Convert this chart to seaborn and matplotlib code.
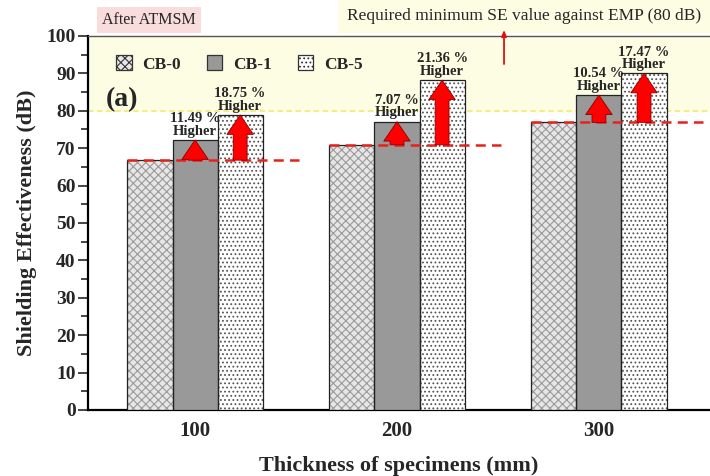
import matplotlib
matplotlib.use('Agg')
import matplotlib.pyplot as plt
from matplotlib.patches import Patch
import seaborn as sns
import pandas as pd

thickness = ['100', '200', '300']
series = ['CB-0', 'CB-1', 'CB-5']
cb0 = [66.8, 70.9, 76.9]
cb1 = [72.2, 77.1, 84.2]
cb5 = [78.9, 88.2, 90.0]
gain_cb1 = ['11.49', '7.07', '10.54']
gain_cb5 = ['18.75', '21.36', '17.47']
emp_limit = 80

df = pd.DataFrame({
    'thickness': thickness * 3,
    'series': [s for s in series for _ in thickness],
    'se': cb0 + cb1 + cb5,
})

sns.set_style('ticks')
plt.rcParams['font.family'] = ['Liberation Serif', 'DejaVu Serif']
plt.rcParams['hatch.linewidth'] = 0.8

fig = plt.figure(figsize=(7.1, 4.76), dpi=100)
ax = fig.add_axes([0.124, 0.1387, 0.876, 0.7857])

colors = {'CB-0': '#e6e6e6', 'CB-1': '#999999', 'CB-5': '#ffffff'}
hatches = {'CB-0': 'xxxx', 'CB-1': '', 'CB-5': '....'}
hatch_col = {'CB-0': '#9a9a9a', 'CB-1': '#999999', 'CB-5': '#555555'}

sns.barplot(data=df, x='thickness', y='se', hue='series', order=thickness,
            hue_order=series, palette=colors, width=0.67, dodge=True,
            edgecolor='black', linewidth=0.9, legend=False, ax=ax, zorder=3)

for cont, s in zip(ax.containers, series):
    for bar in cont:
        bar.set_hatch(hatches[s])
        bar.set_edgecolor(hatch_col[s])
        bar.set_linewidth(0)
        ax.add_patch(plt.Rectangle(bar.get_xy(), bar.get_width(), bar.get_height(),
                                   fill=False, edgecolor='#222222', lw=0.9, zorder=4))

# required-level band
ax.axhspan(emp_limit, 100, color='#fdfde4', zorder=0)
ax.axhline(emp_limit, color='#f0ec80', ls=(0, (3, 2)), lw=1.3, zorder=1)

bars0, bars1, bars5 = ax.containers[:3]
for i in range(len(thickness)):
    b0, b1, b5 = bars0[i], bars1[i], bars5[i]
    base = cb0[i]
    ax.plot([b0.get_x(), b5.get_x() + b5.get_width() + 0.18], [base, base],
            color='#e8201c', ls=(0, (4, 2.5)), lw=1.8, zorder=5)
    for b, top, g in [(b1, cb1[i], gain_cb1[i]), (b5, cb5[i], gain_cb5[i])]:
        xc = b.get_x() + b.get_width() / 2
        ax.annotate('', xy=(xc, top), xytext=(xc, base),
                    arrowprops=dict(arrowstyle='simple,head_width=0.95,tail_width=0.5,head_length=0.7',
                                    fc='#ff0000', ec='#8b0000', lw=0.6, mutation_scale=20,
                                    shrinkA=0, shrinkB=0), zorder=6)
        ax.text(xc, top + 0.6, g + ' %\nHigher', ha='center', va='bottom',
                fontsize=10.5, fontweight='bold', linespacing=0.95, zorder=7)

ax.set_ylim(0, 100)
ax.set_xlim(-0.53, 2.55)
ax.set_yticks(range(0, 101, 10))
ax.set_yticks(range(5, 100, 10), minor=True)
ax.tick_params(axis='y', which='major', length=7, width=1.2, labelsize=14, direction='out', pad=2)
ax.tick_params(axis='y', which='minor', length=5, width=1.2)
ax.tick_params(axis='x', length=0, labelsize=15, pad=8)
for lab in ax.get_xticklabels() + ax.get_yticklabels():
    lab.set_fontweight('bold')

ax.set_xlabel('Thickness of specimens (mm)', fontsize=16, fontweight='bold', labelpad=11)
ax.set_ylabel('Shielding Effectiveness (dB)', fontsize=16, fontweight='bold', labelpad=7)

for side in ['left', 'bottom']:
    ax.spines[side].set_linewidth(1.6)
    ax.spines[side].set_color('black')
ax.spines['top'].set_color('#555555')
ax.spines['top'].set_linewidth(1.0)
ax.spines['right'].set_visible(False)

handles = [Patch(facecolor=colors[s], edgecolor='#333333', hatch=hatches[s], lw=0.9) for s in series]
leg = ax.legend(handles, series, ncol=3, frameon=False, loc='upper left',
                bbox_to_anchor=(0.02, 0.99), prop={'weight': 'bold', 'size': 12.5},
                handlelength=0.9, handleheight=0.9, columnspacing=1.5, handletextpad=0.6)

ax.text(0.028, 0.83, '(a)', transform=ax.transAxes, fontsize=20, fontweight='bold',
        va='center', ha='left', zorder=7)

fig.text(0.21, 0.958, 'After ATMSM', fontsize=11.5, ha='center', va='center', zorder=-1,
         bbox=dict(boxstyle='square,pad=0.3', fc='#f9dcdc', ec='none'))
fig.text(0.738, 0.966, 'Required minimum SE value against EMP (80 dB)', fontsize=12.5,
         ha='center', va='center', zorder=-1,
         bbox=dict(boxstyle='square,pad=0.5', fc='#fdfde4', ec='none'))
ax.annotate('', xy=(1.53, 101.6), xytext=(1.53, 92.5), annotation_clip=False,
            arrowprops=dict(arrowstyle='-|>,head_width=0.15,head_length=0.35',
                            color='#e01010', lw=1.3, shrinkA=0, shrinkB=0), zorder=8)

fig.savefig('out.png', dpi=100)
